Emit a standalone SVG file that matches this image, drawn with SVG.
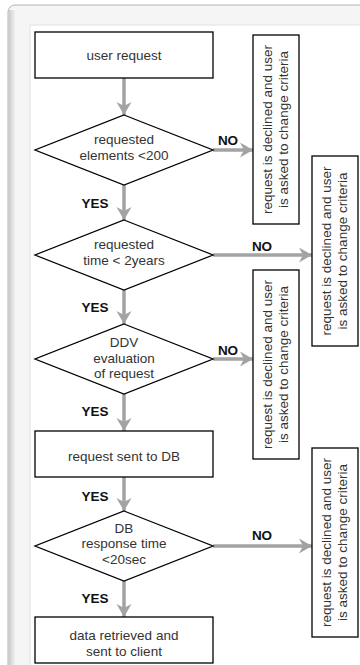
<svg xmlns="http://www.w3.org/2000/svg" width="360" height="665" viewBox="0 0 360 665">
<style>
  .box{fill:#fff;stroke:#000;stroke-width:1.3}
  .t{font-family:"Liberation Sans",Arial,sans-serif;font-size:13.5px;fill:#333;text-anchor:middle}
  .r{font-family:"Liberation Sans",Arial,sans-serif;font-size:13.5px;fill:#333;text-anchor:middle}
  .lb{font-family:"Liberation Sans",Arial,sans-serif;font-size:13.5px;font-weight:bold;fill:#111;text-anchor:middle}
  .c{stroke:#a3a3a3;stroke-width:3.5;fill:none}
</style>
<defs>
  <linearGradient id="sh" x1="0" y1="0" x2="1" y2="0">
    <stop offset="0" stop-color="#c8c8c8"/>
    <stop offset="1" stop-color="#f4f4f4"/>
  </linearGradient>
  <marker id="ah" markerUnits="userSpaceOnUse" markerWidth="16" markerHeight="16" viewBox="-14 -8 16 16" refX="0" refY="0" orient="auto">
    <path d="M0,0 L-13,-7.5 L-9,0 L-13,7.5 Z" fill="#a3a3a3"/>
  </marker>
</defs>
<rect x="0" y="0" width="360" height="665" fill="#fff"/>
<g id="frame">
  <rect x="8" y="5" width="370" height="680" rx="7" fill="#f5f5f5" stroke="#b5b5b5" stroke-width="1"/>
  <rect x="8.5" y="10" width="7" height="660" fill="url(#sh)"/>
  <rect x="30" y="25" width="340" height="650" fill="#fff" stroke="#e2e2e2" stroke-width="1"/>
</g>
<g id="connectors">
  <line class="c" x1="124" y1="78" x2="124" y2="115" marker-end="url(#ah)"/>
  <line class="c" x1="124" y1="185" x2="124" y2="220" marker-end="url(#ah)"/>
  <line class="c" x1="124" y1="290" x2="124" y2="324" marker-end="url(#ah)"/>
  <line class="c" x1="124" y1="394" x2="124" y2="431" marker-end="url(#ah)"/>
  <line class="c" x1="124" y1="477" x2="124" y2="511" marker-end="url(#ah)"/>
  <line class="c" x1="124" y1="581" x2="124" y2="617" marker-end="url(#ah)"/>
  <line class="c" x1="213" y1="150" x2="253" y2="150" marker-end="url(#ah)"/>
  <line class="c" x1="213" y1="255" x2="312" y2="255" marker-end="url(#ah)"/>
  <line class="c" x1="213" y1="359" x2="253" y2="359" marker-end="url(#ah)"/>
  <line class="c" x1="213" y1="546" x2="312" y2="546" marker-end="url(#ah)"/>
  <text class="lb" x="95" y="208">YES</text>
  <text class="lb" x="95" y="312">YES</text>
  <text class="lb" x="95" y="416">YES</text>
  <text class="lb" x="95" y="501">YES</text>
  <text class="lb" x="95" y="603">YES</text>
  <text class="lb" x="228" y="145">NO</text>
  <text class="lb" x="262" y="251">NO</text>
  <text class="lb" x="228" y="355">NO</text>
  <text class="lb" x="262" y="540">NO</text>
</g>
<g id="user-request">
  <rect class="box" x="35" y="32" width="178" height="46"/>
  <text class="t" x="124" y="60">user request</text>
</g>
<g id="check-elements">
  <polygon class="box" points="124,115 213,150 124,185 35,150"/>
  <text class="t" x="124" y="144">requested</text>
  <text class="t" x="124" y="160">elements &lt;200</text>
</g>
<g id="check-time">
  <polygon class="box" points="124,220 213,255 124,290 35,255"/>
  <text class="t" x="124" y="249">requested</text>
  <text class="t" x="124" y="265">time &lt; 2years</text>
</g>
<g id="ddv-evaluation">
  <polygon class="box" points="124,324 213,359 124,394 35,359"/>
  <text class="t" x="124" y="347">DDV</text>
  <text class="t" x="124" y="363">evaluation</text>
  <text class="t" x="124" y="378">of request</text>
</g>
<g id="sent-to-db">
  <rect class="box" x="35" y="431" width="178" height="46"/>
  <text class="t" x="124" y="461">request sent to DB</text>
</g>
<g id="db-response">
  <polygon class="box" points="124,511 213,546 124,581 35,546"/>
  <text class="t" x="124" y="533">DB</text>
  <text class="t" x="124" y="548">response time</text>
  <text class="t" x="124" y="564">&lt;20sec</text>
</g>
<g id="data-retrieved">
  <rect class="box" x="35" y="617" width="178" height="46"/>
  <text class="t" x="124" y="640">data retrieved and</text>
  <text class="t" x="124" y="656">sent to client</text>
</g>
<g id="declined-1">
  <rect class="box" x="253" y="35" width="46" height="189"/>
  <g transform="translate(276,129.5) rotate(-90)">
    <text class="r" x="0" y="-4">request is declined and user</text>
    <text class="r" x="0" y="12">is asked to change criteria</text>
  </g>
</g>
<g id="declined-2">
  <rect class="box" x="312" y="156" width="46" height="190"/>
  <g transform="translate(335,251) rotate(-90)">
    <text class="r" x="0" y="-4">request is declined and user</text>
    <text class="r" x="0" y="12">is asked to change criteria</text>
  </g>
</g>
<g id="declined-3">
  <rect class="box" x="253" y="270" width="46" height="189"/>
  <g transform="translate(276,364.5) rotate(-90)">
    <text class="r" x="0" y="-4">request is declined and user</text>
    <text class="r" x="0" y="12">is asked to change criteria</text>
  </g>
</g>
<g id="declined-4">
  <rect class="box" x="312" y="448" width="46" height="189"/>
  <g transform="translate(335,542.5) rotate(-90)">
    <text class="r" x="0" y="-4">request is declined and user</text>
    <text class="r" x="0" y="12">is asked to change criteria</text>
  </g>
</g>
</svg>
